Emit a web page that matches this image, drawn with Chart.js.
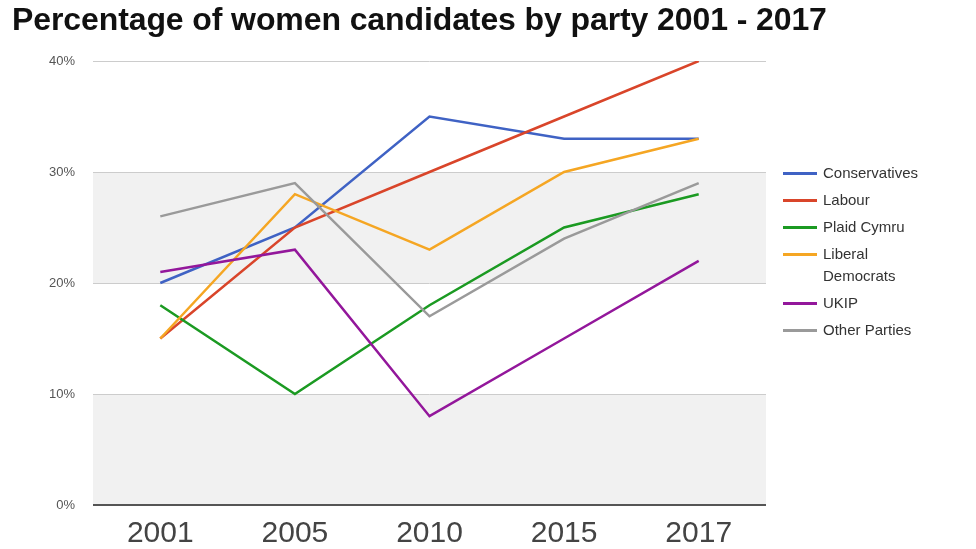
<!DOCTYPE html>
<html>
<head>
<meta charset="utf-8">
<script src="https://cdn.jsdelivr.net/npm/chart.js@4/dist/chart.umd.min.js"></script>
<style>
html,body{margin:0;padding:0;background:#fff;}
#wrap{position:relative;width:976px;height:549px;overflow:hidden;}
#title{position:absolute;left:12px;top:1px;font-family:"Liberation Sans",Arial,sans-serif;font-weight:bold;font-size:32px;color:#111;white-space:nowrap;letter-spacing:-0.1px;}
#legend{position:absolute;left:783px;top:162px;font-family:"Liberation Sans",Arial,sans-serif;font-size:15px;color:#333;}
.item{display:flex;align-items:flex-start;margin-bottom:5px;line-height:22px;}
.sw{width:34px;height:3px;margin-top:10px;margin-right:6px;flex:none;}
canvas{position:absolute;left:0;top:0;}
</style>
</head>
<body>
<div id="wrap">
<canvas id="c" width="976" height="549"></canvas>
<div id="title">Percentage of women candidates by party 2001 - 2017</div>
<div id="legend"></div>
</div>
<script>
const years = ["2001", "2005", "2010", "2015", "2017"];
const seriesNames = ["Conservatives", "Labour", "Plaid Cymru", "Liberal Democrats", "UKIP", "Other Parties"];
const legendLabels = ["Conservatives", "Labour", "Plaid Cymru", "Liberal<br>Democrats", "UKIP", "Other Parties"];
const conservatives = [20, 25, 35, 33, 33];
const labour = [15, 25, 30, 35, 40];
const plaidCymru = [18, 10, 18, 25, 28];
const libDems = [15, 28, 23, 30, 33];
const ukip = [21, 23, 8, 15, 22];
const otherParties = [26, 29, 17, 24, 29];
const yTicks = [0, 10, 20, 30, 40];
const colors = ["#3f62c4", "#d9452a", "#1b9a22", "#f5a623", "#93179b", "#9a9a9a"];

const allData = [conservatives, labour, plaidCymru, libDems, ukip, otherParties];

const bands = {
  id: 'bands',
  beforeDraw(chart) {
    const {ctx, chartArea, scales} = chart;
    const y = scales.y;
    ctx.save();
    ctx.fillStyle = '#f1f1f1';
    [[0, 10], [20, 30]].forEach(([a, b]) => {
      const top = y.getPixelForValue(b), bot = y.getPixelForValue(a);
      ctx.fillRect(chartArea.left, top, chartArea.right - chartArea.left, bot - top);
    });
    ctx.restore();
  }
};

new Chart(document.getElementById('c'), {
  type: 'line',
  data: {
    labels: years,
    datasets: seriesNames.map((n, i) => ({
      label: n,
      data: allData[i],
      borderColor: colors[i],
      backgroundColor: colors[i],
      borderWidth: 2.5,
      pointRadius: 0,
      tension: 0,
      order: seriesNames.length - i
    }))
  },
  options: {
    responsive: false,
    animation: false,
    devicePixelRatio: 1,
    layout: {padding: {top: 61, right: 210, left: 0, bottom: 0}},
    plugins: {legend: {display: false}, tooltip: {enabled: false}, title: {display: false}},
    scales: {
      x: {
        offset: true,
        grid: {display: false, drawTicks: false},
        border: {display: false},
        ticks: {color: '#444', font: {family: '"Liberation Sans", Arial, sans-serif', size: 30}, padding: 11, maxRotation: 0},
        afterFit: s => { s.height = 44; }
      },
      y: {
        min: 0, max: 40,
        afterBuildTicks: s => { s.ticks = yTicks.map(v => ({value: v})); },
        grid: {
          drawTicks: false,
          color: c => c.tick && c.tick.value === 0 ? '#555' : '#cccccc',
          lineWidth: c => c.tick && c.tick.value === 0 ? 2 : 1
        },
        border: {display: false},
        ticks: {color: '#555', font: {family: '"Liberation Sans", Arial, sans-serif', size: 13}, padding: 18, callback: v => v + '%'},
        afterFit: s => { s.width = 93; }
      }
    }
  },
  plugins: [bands]
});

const lg = document.getElementById('legend');
legendLabels.forEach((t, i) => {
  const d = document.createElement('div');
  d.className = 'item';
  d.innerHTML = '<span class="sw" style="background:' + colors[i] + '"></span><span>' + t + '</span>';
  lg.appendChild(d);
});
</script>
</body>
</html>
